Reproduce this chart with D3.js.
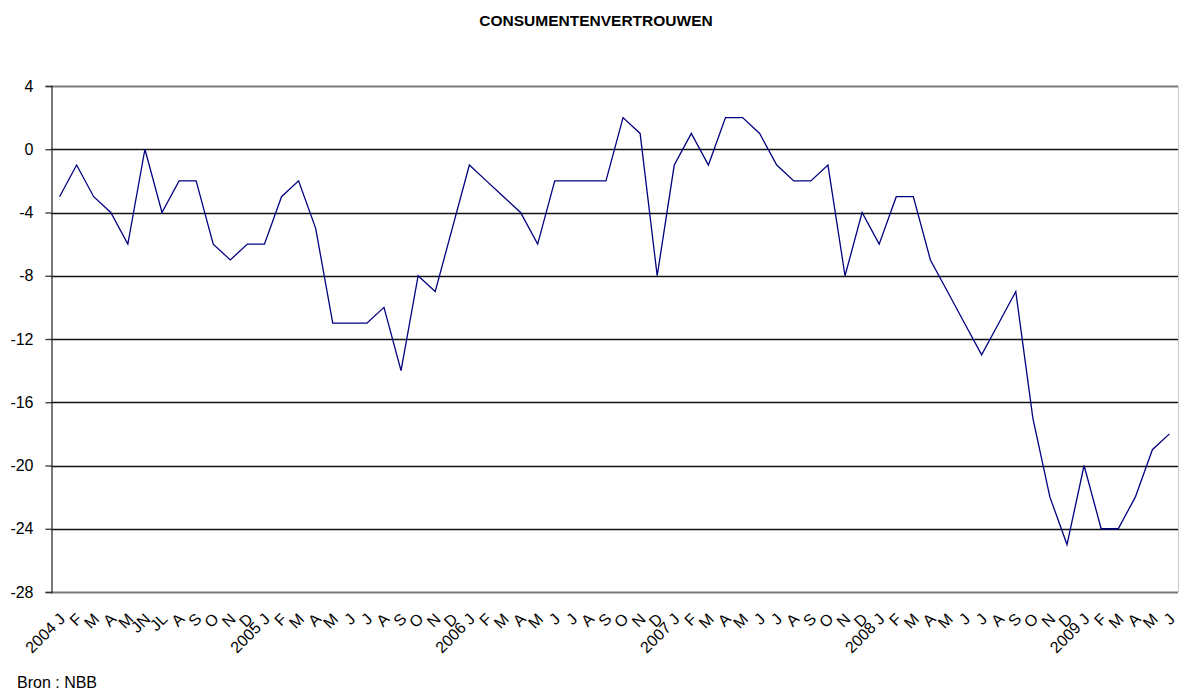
<!DOCTYPE html>
<html>
<head>
<meta charset="utf-8">
<script src="https://cdn.jsdelivr.net/npm/d3@7"></script>
<style>
  body { margin: 0; background: #fff; }
  text { font-family: Arial, "Liberation Sans", sans-serif; }
</style>
</head>
<body>
<svg id="chart"></svg>
<script>
// Consumentenvertrouwen, monthly Jan 2004 - Jun 2009 (source NBB)

const tickLabels = [
  "2004 J", "F", "M", "A", "M", "JN", "JL", "A", "S", "O", "N", "D",
  "2005 J", "F", "M", "A", "M", "J", "J", "A", "S", "O", "N", "D",
  "2006 J", "F", "M", "A", "M", "J", "J", "A", "S", "O", "N", "D",
  "2007 J", "F", "M", "A", "M", "J", "J", "A", "S", "O", "N", "D",
  "2008 J", "F", "M", "A", "M", "J", "J", "A", "S", "O", "N", "D",
  "2009 J", "F", "M", "A", "M", "J"
];

const values = [
  -3, -1, -3, -4, -6, 0, -4, -2, -2, -6, -7, -6,
  -6, -3, -2, -5, -11, -11, -11, -10, -14, -8, -9, -5,
  -1, -2, -3, -4, -6, -2, -2, -2, -2, 2, 1, -8,
  -1, 1, -1, 2, 2, 1, -1, -2, -2, -1, -8, -4,
  -6, -3, -3, -7, -9, -11, -13, -11, -9, -17, -22, -25,
  -20, -24, -24, -22, -19, -18
];

const yTicks = [4, 0, -4, -8, -12, -16, -20, -24, -28];

const WIDTH = 1179;
const HEIGHT = 700;
const LEFT = 51, RIGHT = 1178, TOP = 86, BOTTOM = 592;

const svg = d3.select("#chart")
  .attr("width", WIDTH)
  .attr("height", HEIGHT);

const idx = d3.range(values.length);

const x = d3.scalePoint()
  .domain(idx)
  .range([LEFT, RIGHT])
  .padding(0.5);

const y = d3.scaleLinear()
  .domain([-28, 4])
  .range([BOTTOM, TOP]);

// title
svg.append("text")
  .attr("x", 596)
  .attr("y", 26)
  .attr("text-anchor", "middle")
  .attr("font-size", "15.5px")
  .attr("font-weight", "bold")
  .attr("fill", "#000")
  .text("CONSUMENTENVERTROUWEN");

// right border of plot area
svg.append("line")
  .attr("x1", RIGHT + 0.5).attr("x2", RIGHT + 0.5)
  .attr("y1", TOP).attr("y2", BOTTOM)
  .attr("stroke", "#c8c8c8")
  .attr("stroke-width", 1);

// gridlines
svg.append("g")
  .selectAll("line")
  .data(yTicks)
  .enter()
  .append("line")
  .attr("x1", LEFT)
  .attr("x2", RIGHT)
  .attr("y1", d => Math.round(y(d)) + 0.5)
  .attr("y2", d => Math.round(y(d)) + 0.5)
  .attr("stroke", d => (d === 4 || d === -28) ? "#7a7a7a" : "#111")
  .attr("stroke-width", d => (d === 4 || d === -28) ? 2 : 1.3);

// y axis, plain hyphen for negatives like the original
const yAxis = d3.axisLeft(y)
  .tickValues(yTicks)
  .tickSize(6)
  .tickPadding(12)
  .tickFormat(d => String(d));

const gy = svg.append("g")
  .attr("transform", `translate(${LEFT + 0.5},0)`)
  .call(yAxis);
gy.select(".domain").attr("stroke", "#333").attr("stroke-width", 1.3);
gy.selectAll(".tick line").attr("stroke", "#333").attr("stroke-width", 1.3);
gy.selectAll(".tick text")
  .attr("font-size", "16px")
  .attr("fill", "#000")
  .style("font-family", "Arial, 'Liberation Sans', sans-serif");

// x axis labels, rotated
const xAxis = d3.axisBottom(x)
  .tickSize(0)
  .tickFormat(i => tickLabels[i]);

const gx = svg.append("g")
  .attr("transform", `translate(0,${BOTTOM})`)
  .call(xAxis);
gx.select(".domain").remove();
gx.selectAll(".tick text")
  .attr("font-size", "16px")
  .attr("fill", "#000")
  .style("font-family", "Arial, 'Liberation Sans', sans-serif")
  .attr("text-anchor", "end")
  .attr("x", 0)
  .attr("y", 0)
  .attr("dy", 0)
  .attr("transform", "translate(6,28) rotate(-45)");

// data line
const line = d3.line()
  .x((d, i) => x(i))
  .y(d => y(d));

svg.append("path")
  .datum(values)
  .attr("fill", "none")
  .attr("stroke", "#000080")
  .attr("stroke-width", 1.3)
  .attr("stroke-linejoin", "miter")
  .attr("d", line);

// source
svg.append("text")
  .attr("x", 17)
  .attr("y", 688)
  .attr("font-size", "16px")
  .attr("fill", "#000")
  .text("Bron : NBB");
</script>
</body>
</html>
